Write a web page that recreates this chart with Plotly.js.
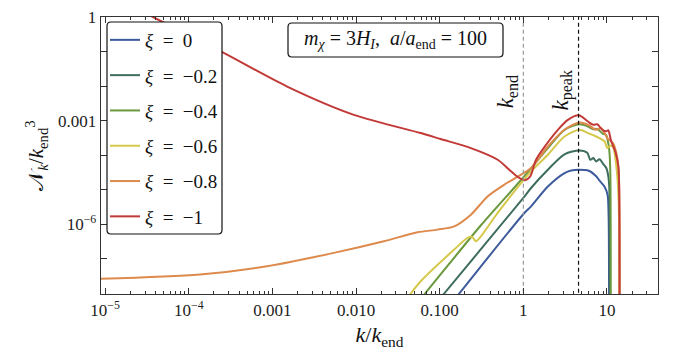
<!DOCTYPE html>
<html>
<head>
<meta charset="utf-8">
<script src="https://cdn.plot.ly/plotly-3.0.1.min.js"></script>
<style>html,body{margin:0;padding:0;background:#fff;}#chart{width:674px;height:355px;}</style>
</head>
<body>
<div id="chart"></div>
<script>
// ---- data ----
const seriesLabels = ['0', '−0.2', '−0.4', '−0.6', '−0.8', '−1'];
const seriesColors = ['#3d5a9c', '#3e6d5e', '#6a993d', '#d5c84b', '#dd8a4c', '#c13a37'];

const kXi0 = [0.1, 0.171, 1.028, 1.236, 1.963, 3.105, 3.733, 4.592, 6.053, 7.430, 8.147, 9.354, 10.16, 10.45, 10.59];
const nXi0 = [1.97e-9, 9.86e-9, 2.12e-6, 3.29e-6, 1.24e-5, 3.04e-5, 3.61e-5, 3.78e-5, 3.54e-5, 2.45e-5, 1.82e-5, 1.22e-5, 7.16e-6, 1.89e-6, 1e-9];

const kXi02 = [0.0501, 0.113, 1.028, 1.236, 1.963, 3.105, 4.699, 5.808, 6.310, 6.855, 7.430, 8.147, 9.036, 9.817, 10.35, 10.64, 10.79];
const nXi02 = [8.91e-10, 9.86e-9, 6.28e-6, 1.12e-5, 3.78e-5, 1.06e-4, 1.37e-4, 1.17e-4, 7.36e-5, 8.24e-5, 6.58e-5, 7.62e-5, 5.46e-5, 4.24e-5, 2.54e-5, 1.22e-5, 1e-9];

const kXi04 = [0.0316, 0.0668, 0.311, 1.028, 1.963, 3.105, 4.699, 5.916, 6.855, 7.656, 8.790, 9.817, 10.23, 10.64, 10.94, 11.09];
const nXi04 = [1.12e-9, 9.86e-9, 9.33e-7, 2.45e-5, 1.60e-4, 5.42e-4, 7.82e-4, 6.75e-4, 5.62e-4, 5.75e-4, 4.27e-4, 3.80e-4, 2.61e-4, 1.43e-4, 3.80e-5, 1e-9];

const kXi06 = [0.0251, 0.0450, 0.0593, 0.149, 0.215, 0.243, 0.271, 0.311, 0.493, 0.938, 1.236, 1.963, 3.105, 4.699, 5.916, 7.430, 9.354, 10.09, 10.94, 11.80, 12.94, 13.77, 14.09];
const nXi06 = [1.41e-9, 9.86e-9, 2.24e-8, 1.85e-7, 4.02e-7, 4.30e-7, 3.21e-7, 4.47e-7, 2.12e-6, 1.56e-5, 3.38e-5, 1.03e-4, 3.47e-4, 5.42e-4, 4.36e-4, 3.47e-4, 2.49e-4, 1.60e-4, 1.87e-4, 1.75e-4, 4.71e-5, 5.13e-6, 1e-9];

const kXi08 = [8.91e-6, 1.365e-4, 8.61e-4, 5.42e-3, 0.0215, 0.0542, 0.0942, 0.149, 0.236, 0.374, 0.592, 0.938, 1.236, 1.963, 3.105, 4.699, 5.916, 7.430, 8.551, 9.354, 10.09, 11.80, 12.94, 13.77, 14.09];
const nXi08 = [2.62e-8, 3.49e-8, 6.07e-8, 1.48e-7, 3.21e-7, 5.83e-7, 6.98e-7, 8.69e-7, 1.89e-6, 6.40e-6, 1.40e-5, 2.72e-5, 4.24e-5, 1.78e-4, 5.42e-4, 8.81e-4, 7.57e-4, 5.42e-4, 6.07e-4, 4.36e-4, 3.12e-4, 2.24e-4, 1.15e-4, 3.78e-5, 1e-9];

const kXi1 = [1e-5, 3.73e-5, 2.58e-4, 1.50e-3, 9.42e-3, 5.93e-2, 0.103, 0.236, 0.493, 0.679, 0.857, 1.047, 1.202, 1.419, 1.871, 2.588, 3.404, 4.592, 5.916, 6.855, 7.656, 8.790, 9.817, 10.35, 11.25, 12.59, 13.68, 14.09, 14.16];
const nXi1 = [5.25, 1, 9.29e-2, 9.68e-3, 1.47e-3, 4.36e-4, 2.92e-4, 1.60e-4, 7.36e-5, 3.78e-5, 2.33e-5, 1.88e-5, 2.38e-5, 7.36e-5, 2.00e-4, 5.42e-4, 1.05e-3, 1.42e-3, 9.42e-4, 7.57e-4, 7.82e-4, 5.42e-4, 4.91e-4, 5.25e-4, 2.49e-4, 1.25e-4, 4.71e-5, 1.35e-6, 1e-9];

const kMarkers = [1, 4.57];            // k_end, k_peak
const xTickVals = [1e-5, 1e-4, 1e-3, 1e-2, 1e-1, 1, 10];
const xTickText = ['10<sup>−5</sup>', '10<sup>−4</sup>', '0.001', '0.010', '0.100', '1', '10'];
const yTickVals = [1, 1e-1, 1e-2, 1e-3, 1e-4, 1e-5, 1e-6, 1e-7, 1e-8];
const yTickText = ['1', '', '', '0.001', '', '', '10<sup>−6</sup>', '', ''];

// ---- build ----
const xs = [kXi0, kXi02, kXi04, kXi06, kXi08, kXi1];
const ys = [nXi0, nXi02, nXi04, nXi06, nXi08, nXi1];
const traces = xs.map((x, i) => ({
  x: x, y: ys[i], type: 'scatter', mode: 'lines',
  name: '<i>ξ</i>\u2002=\u2002' + seriesLabels[i],
  legendgroup: 'g' + i,
  line: {color: seriesColors[i], width: 2, shape: 'spline', smoothing: 0.8},
  hoverinfo: 'skip'
}));
traces.unshift(
  {x: [kMarkers[0], kMarkers[0]], y: [1e-9, 10], mode: 'lines', showlegend: false, xaxis: 'x2',
   line: {color: '#9a9a9a', width: 1.2, dash: '4px,3px'}, hoverinfo: 'skip'},
  {x: [kMarkers[1], kMarkers[1]], y: [1e-9, 10], mode: 'lines', showlegend: false, xaxis: 'x2',
   line: {color: '#111', width: 1.2, dash: '4px,3px'}, hoverinfo: 'skip'}
);

const minorX = [];
for (let e = -6; e <= 1; e++) for (let m = 2; m <= 9; m++) minorX.push(m * Math.pow(10, e));

const FAM = 'Liberation Serif';
const W = 674 - 101 - 16, H = 355 - 17 - 61;
const px = v => (v - 101) / W, py = v => 1 - (v - 17) / H;
function rrect(x0, y0, x1, y1, r) {
  const rx = r / W, ry = r / H;
  const a = px(x0), b = px(x1), c = py(y0), d = py(y1);
  return `M${a + rx},${c} L${b - rx},${c} Q${b},${c} ${b},${c - ry} L${b},${d + ry} Q${b},${d} ${b - rx},${d} L${a + rx},${d} Q${a},${d} ${a},${d + ry} L${a},${c - ry} Q${a},${c} ${a + rx},${c} Z`;
}

const layout = {
  width: 674, height: 355,
  margin: {l: 101, r: 16, t: 17, b: 61},
  paper_bgcolor: '#fff', plot_bgcolor: '#fff',
  showlegend: true,
  hovermode: false,
  xaxis: {
    type: 'log', range: [-5.05, 1.61],
    showline: true, linecolor: '#333', linewidth: 1.3, mirror: 'ticks',
    ticks: 'inside', ticklen: 6, tickwidth: 1, tickcolor: '#333',
    showgrid: false, zeroline: false,
    tickfont: {family: FAM, size: 17, color: '#222'},
    tickmode: 'array', tickvals: xTickVals, ticktext: xTickText,
    title: {text: '<i>k</i>/<i>k</i><sub>end</sub>', font: {family: FAM, size: 22, color: '#111'}, standoff: 8}
  },
  xaxis2: {
    type: 'log', range: [-5.05, 1.61], overlaying: 'x', side: 'bottom',
    showline: true, linecolor: '#333', linewidth: 1.3, mirror: 'ticks',
    ticks: 'inside', ticklen: 3, tickwidth: 1, tickcolor: '#333',
    showgrid: false, zeroline: false, showticklabels: false,
    tickmode: 'array', tickvals: minorX
  },
  yaxis: {
    type: 'log', range: [-8.02, 0],
    showline: true, linecolor: '#333', linewidth: 1.3, mirror: 'ticks',
    ticks: 'inside', ticklen: 6, tickwidth: 1, tickcolor: '#333',
    showgrid: false, zeroline: false,
    tickfont: {family: FAM, size: 17, color: '#222'},
    tickmode: 'array', tickvals: yTickVals, ticktext: yTickText,
    title: {text: '𝒩<sub><i>k</i></sub>/<i>k</i><sub>end</sub><sup>3</sup>', font: {family: FAM, size: 21, color: '#111'}, standoff: 8}
  },
  legend: {
    x: px(105), y: py(21), xanchor: 'left', yanchor: 'top',
    bgcolor: 'rgba(0,0,0,0)', borderwidth: 0,
    font: {family: FAM, size: 19, color: '#111'},
    tracegroupgap: 7.6, itemwidth: 30
  },
  shapes: [
    {type: 'path', xref: 'paper', yref: 'paper', path: rrect(107, 22, 222, 234, 4),
     fillcolor: '#fff', line: {color: '#111', width: 1.2}, layer: 'above'},
    {type: 'path', xref: 'paper', yref: 'paper', path: rrect(288, 23, 503, 57, 4),
     fillcolor: '#fff', line: {color: '#111', width: 1.2}, layer: 'above'}
  ],
  annotations: [
    {xref: 'paper', yref: 'paper', x: px(395.5), y: py(40), showarrow: false, xanchor: 'center', yanchor: 'middle',
     text: '<i>m</i><sub><i>χ</i></sub> = 3<i>H</i><sub><i>I</i></sub>,  <i>a</i>/<i>a</i><sub>end</sub> = 100',
     font: {family: FAM, size: 20, color: '#111'}},
    {xref: 'x', yref: 'paper', x: Math.log10(kMarkers[0]), xshift: -16, y: py(92), showarrow: false,
     xanchor: 'center', yanchor: 'middle',
     textangle: -90, text: '<i>k</i><sub>end</sub>', font: {family: FAM, size: 23, color: '#111'}},
    {xref: 'x', yref: 'paper', x: Math.log10(kMarkers[1]), xshift: -16, y: py(90), showarrow: false,
     xanchor: 'center', yanchor: 'middle',
     textangle: -90, text: '<i>k</i><sub>peak</sub>', font: {family: FAM, size: 23, color: '#111'}}
  ]
};

Plotly.newPlot('chart', traces, layout, {staticPlot: true, displayModeBar: false});
</script>
</body>
</html>
